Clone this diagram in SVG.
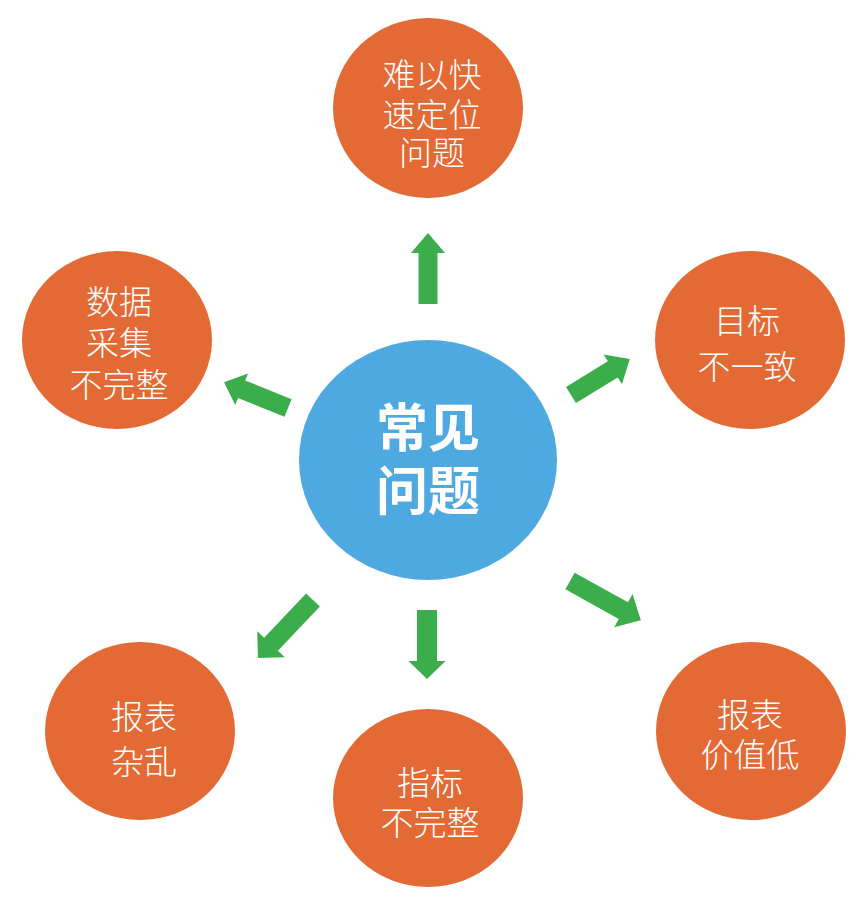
<svg xmlns="http://www.w3.org/2000/svg" width="859" height="901" viewBox="0 0 859 901">
<style>
.bg{fill:#ffffff}
.node{fill:#E36A35}
.hub{fill:#4FA9E1}
.arrow{fill:#3BAE4B}
text{font-family:"Noto Sans CJK SC","Noto Sans",sans-serif;fill:#ffffff;text-anchor:middle}
.t{font-size:33px;font-weight:300}
.h{font-size:52px;font-weight:bold}
</style>
<rect class="bg" x="0" y="0" width="859" height="901"/>
<g id="connectors">
<path class="arrow" transform="translate(428,304) rotate(-90)" d="M0,-9.5 H51 V-17 L71,0 L51,17 V9.5 H0 Z"/>
<path class="arrow" transform="translate(571,395) rotate(-31.5)" d="M0,-9.5 H49 V-17.5 L69,0 L49,17.5 V9.5 H0 Z"/>
<path class="arrow" transform="translate(570,581) rotate(29)" d="M0,-9.5 H61 V-19 L81,0 L61,19 V9.5 H0 Z"/>
<path class="arrow" transform="translate(427,610) rotate(90)" d="M0,-10 H51 V-18.5 L69,0 L51,18.5 V10 H0 Z"/>
<path class="arrow" transform="translate(313,600) rotate(133.5)" d="M0,-9.5 H61 V-19 L80,0 L61,19 V9.5 H0 Z"/>
<path class="arrow" transform="translate(288,408) rotate(-158)" d="M0,-9.5 H50 V-17 L69,0 L50,17 V9.5 H0 Z"/>
</g>
<g id="hub">
<ellipse class="hub" cx="428" cy="460" rx="129" ry="120"/>
<text class="h" x="428" y="447">常见</text>
<text class="h" x="428" y="510">问题</text>
</g>
<g id="node-top">
<ellipse class="node" cx="428" cy="108" rx="95" ry="90"/>
<text class="t" x="432" y="87">难以快</text>
<text class="t" x="432" y="127">速定位</text>
<text class="t" x="432" y="165">问题</text>
</g>
<g id="node-right">
<ellipse class="node" cx="750" cy="340" rx="95" ry="89"/>
<text class="t" x="747" y="333">目标</text>
<text class="t" x="747" y="379">不一致</text>
</g>
<g id="node-left">
<ellipse class="node" cx="117" cy="340" rx="95" ry="89"/>
<text class="t" x="119" y="314">数据</text>
<text class="t" x="119" y="355">采集</text>
<text class="t" x="119" y="397">不完整</text>
</g>
<g id="node-bottom-left">
<ellipse class="node" cx="140" cy="731" rx="95" ry="89"/>
<text class="t" x="144" y="729">报表</text>
<text class="t" x="144" y="774">杂乱</text>
</g>
<g id="node-bottom">
<ellipse class="node" cx="428" cy="798" rx="95" ry="89"/>
<text class="t" x="430" y="795">指标</text>
<text class="t" x="430" y="835">不完整</text>
</g>
<g id="node-bottom-right">
<ellipse class="node" cx="751" cy="731" rx="95" ry="89"/>
<text class="t" x="750" y="727">报表</text>
<text class="t" x="750" y="767">价值低</text>
</g>
</svg>
